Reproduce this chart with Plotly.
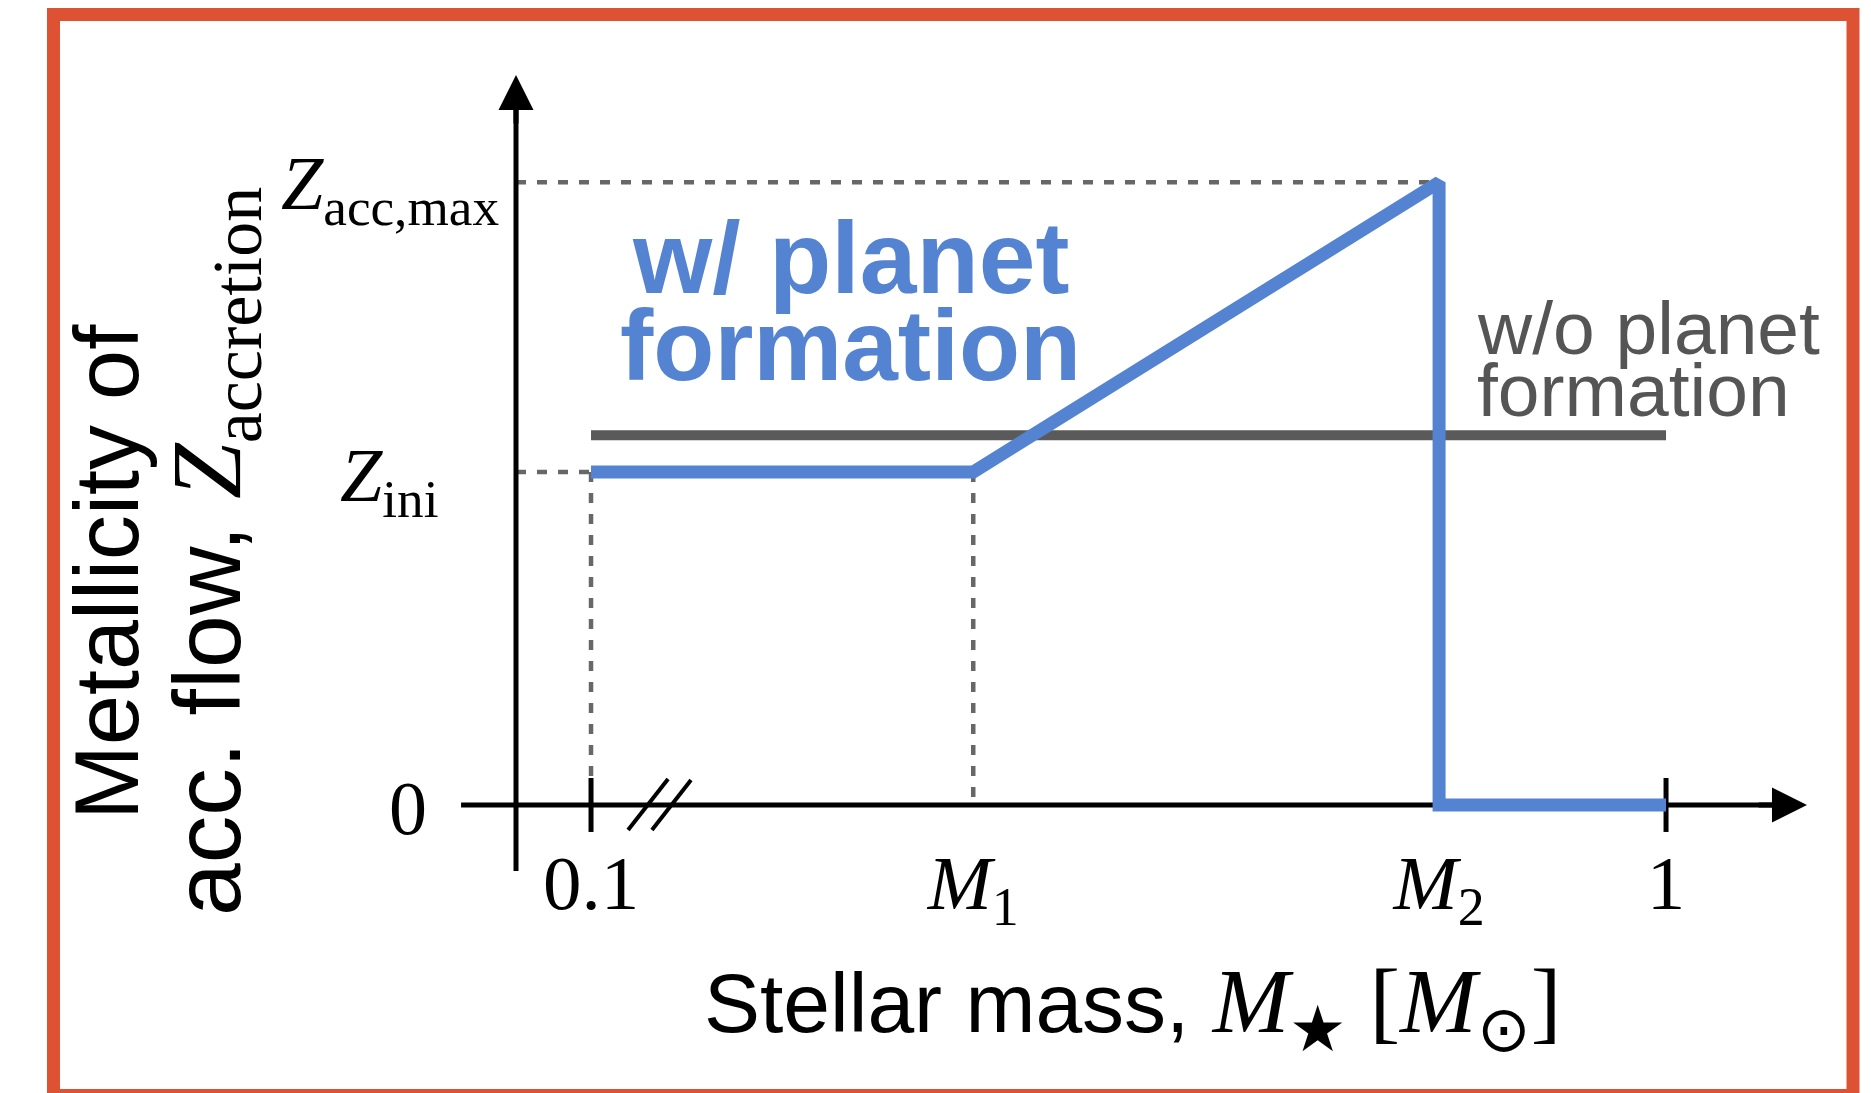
import plotly.graph_objects as go

# ---------------- data (schematic values) ----------------
x_tick_vals = [0.1, 0.42, 0.81, 1.0]
x_tick_labels = ["0.1", "<i>M</i><sub>1</sub>", "<i>M</i><sub>2</sub>", "1"]
M_LOW, M1, M2, M_HIGH = x_tick_vals

Z_INI = 1.0
Z_NOPLANET = 1.11
Z_MAX = 1.87
y_tick_vals = [0, Z_INI, Z_MAX]
y_tick_labels = ["0", "<i>Z</i><sub>ini</sub>", "<i>Z</i><sub>acc,max</sub>"]

with_planet_x = [M_LOW, M1, M2, M2, M_HIGH]
with_planet_y = [Z_INI, Z_INI, Z_MAX, 0, 0]
without_planet_x = [M_LOW, M_HIGH]
without_planet_y = [Z_NOPLANET, Z_NOPLANET]

# ---------------- layout constants ----------------
W, H = 1871, 1093
X_RANGE = [-0.3948, 1.1716]
Y_RANGE = [-0.8649, 2.4174]
YAXIS_X = 0.0372
XAXIS_START, XAXIS_END = -0.0088, 1.118
YAXIS_START, YAXIS_END = -0.198, 2.192
TICK_H = 0.081

BLUE = "#5483D2"
DARK = "#5A5A5A"
DASH = "#676767"
ORANGE = "#DD5233"
SERIF = "Liberation Serif, Times New Roman, serif"
SANS = "Liberation Sans, Arial, Helvetica, sans-serif"


def px(x):
    return x / W


def py(y):
    return 1 - y / H


fig = go.Figure()
fig.add_trace(go.Scatter(x=without_planet_x, y=without_planet_y, mode="lines",
                         line=dict(color=DARK, width=10), hoverinfo="skip",
                         showlegend=False))
fig.add_trace(go.Scatter(x=with_planet_x, y=with_planet_y, mode="lines",
                         line=dict(color=BLUE, width=13), hoverinfo="skip",
                         showlegend=False))

shapes = []


def seg(x0, y0, x1, y1, color, width, dash=None):
    d = dict(type="line", xref="x", yref="y", x0=x0, y0=y0, x1=x1, y1=y1,
             line=dict(color=color, width=width), layer="below")
    if dash:
        d["line"]["dash"] = dash
    shapes.append(d)


# guide lines
seg(YAXIS_X, Z_MAX, M2, Z_MAX, DASH, 4.5, "10px,11px")
seg(YAXIS_X, Z_INI, M_LOW, Z_INI, DASH, 4.5, "10px,11px")
seg(M_LOW, Z_INI, M_LOW, TICK_H, DASH, 4.5, "10px,11px")
seg(M1, Z_INI, M1, 0, DASH, 4.5, "10px,11px")
# axes
seg(XAXIS_START, 0, XAXIS_END - 0.015, 0, "black", 5)
seg(YAXIS_X, YAXIS_START, YAXIS_X, YAXIS_END - 0.05, "black", 5)
# ticks
seg(M_LOW, -TICK_H, M_LOW, TICK_H, "black", 5)
seg(M_HIGH, -TICK_H, M_HIGH, TICK_H, "black", 5)
# axis break
seg(0.131, -0.075, 0.1645, 0.078, "black", 4)
seg(0.151, -0.075, 0.1837, 0.075, "black", 4)

# frame
shapes.append(dict(type="rect", xref="paper", yref="paper",
                   x0=px(53.5), x1=px(1853), y0=py(1095.5), y1=py(14.5),
                   line=dict(color=ORANGE, width=13), fillcolor="rgba(0,0,0,0)",
                   layer="above"))

annotations = []
# arrow heads
annotations.append(dict(x=XAXIS_END, y=0, xref="x", yref="y", ax=-50, ay=0,
                        showarrow=True, arrowhead=2, arrowwidth=5, arrowsize=1.4,
                        arrowcolor="black", text=""))
annotations.append(dict(x=YAXIS_X, y=YAXIS_END, xref="x", yref="y", ax=0, ay=50,
                        showarrow=True, arrowhead=2, arrowwidth=5, arrowsize=1.4,
                        arrowcolor="black", text=""))

# y tick labels
y_label_xshift = [-87, -76, -15]
y_label_yshift = [-3, -9, -7]
for v, t, xs, ys in zip(y_tick_vals, y_tick_labels, y_label_xshift, y_label_yshift):
    annotations.append(dict(x=YAXIS_X, y=v, xref="x", yref="y", text=t,
                            showarrow=False, xanchor="right", yanchor="middle",
                            xshift=xs, yshift=ys,
                            font=dict(family=SERIF, size=76, color="black")))

# series labels
annotations.append(dict(x=px(850), y=py(258), xref="paper", yref="paper",
                        text="<b>w/ planet</b>", showarrow=False,
                        xanchor="center", yanchor="middle",
                        font=dict(family=SANS, size=102, color=BLUE)))
annotations.append(dict(x=px(850), y=py(345), xref="paper", yref="paper",
                        text="<b>formation</b>", showarrow=False,
                        xanchor="center", yanchor="middle",
                        font=dict(family=SANS, size=100, color=BLUE)))
annotations.append(dict(x=px(1475), y=py(328), xref="paper", yref="paper",
                        text="w/o planet", showarrow=False,
                        xanchor="left", yanchor="middle",
                        font=dict(family=SANS, size=75, color="#555555")))
annotations.append(dict(x=px(1475), y=py(390), xref="paper", yref="paper",
                        text="formation", showarrow=False,
                        xanchor="left", yanchor="middle",
                        font=dict(family=SANS, size=75, color="#555555")))

# axis titles
annotations.append(dict(
    x=px(1132), y=py(1007), xref="paper", yref="paper", showarrow=False,
    xanchor="center", yanchor="middle",
    text=("Stellar mass, <span style='font-family:Liberation Serif;font-size:92px'>"
          "<i>M</i><sub>★</sub> [<i>M</i><sub>⊙</sub>]</span>"),
    font=dict(family=SANS, size=84, color="black")))
annotations.append(dict(
    x=px(107), y=py(572), xref="paper", yref="paper", showarrow=False,
    xanchor="center", yanchor="middle", textangle=-90,
    text="Metallicity of", font=dict(family=SANS, size=90, color="black")))
annotations.append(dict(
    x=px(213), y=py(552), xref="paper", yref="paper", showarrow=False,
    xanchor="center", yanchor="middle", textangle=-90,
    text=("acc. flow, <span style='font-family:Liberation Serif;font-size:100px'>"
          "<i>Z</i><sub>accretion</sub></span>"),
    font=dict(family=SANS, size=95, color="black")))

fig.update_layout(
    width=W, height=H,
    margin=dict(l=0, r=0, t=0, b=0, pad=0),
    paper_bgcolor="white", plot_bgcolor="white",
    showlegend=False,
    shapes=shapes, annotations=annotations,
    xaxis=dict(range=X_RANGE, domain=[0, 1], anchor="free", position=py(805),
               tickvals=x_tick_vals, ticktext=x_tick_labels,
               tickfont=dict(family=SERIF, size=77, color="black"),
               ticks="", showline=False, showgrid=False, zeroline=False,
               ticklabelstandoff=26, fixedrange=True),
    yaxis=dict(range=Y_RANGE, domain=[0, 1], visible=False, fixedrange=True),
)

fig.write_html("out.html", config={"displayModeBar": False})
